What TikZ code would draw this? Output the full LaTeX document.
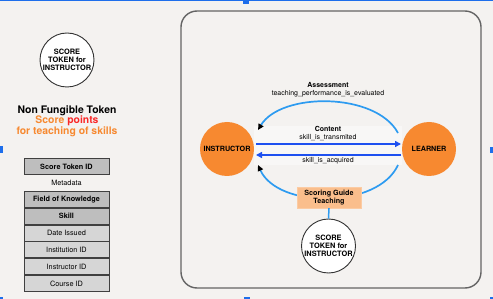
\documentclass[tikz,border=0pt]{standalone}
\usepackage{fontspec}
\setmainfont{TeX Gyre Heros}
\usetikzlibrary{arrows.meta,positioning}
\definecolor{bgc}{RGB}{244,242,240}
\definecolor{orng}{RGB}{247,137,48}
\definecolor{lorng}{RGB}{250,190,140}
\definecolor{ptred}{RGB}{250,40,40}
\definecolor{dblue}{RGB}{30,80,240}
\definecolor{lblue}{RGB}{45,155,240}
\definecolor{hblue}{RGB}{30,110,235}
\definecolor{dgrey}{RGB}{190,190,190}
\definecolor{lgrey}{RGB}{214,214,214}
\definecolor{frame}{RGB}{100,100,100}
\tikzset{
  token/.style={circle,draw=black!80,line width=0.9pt,fill=white,minimum size=54pt,inner sep=0pt,align=center,font=\fontsize{7.4}{8.2}\selectfont\bfseries},
  actor/.style={circle,fill=orng,minimum size=54pt,inner sep=0pt,font=\fontsize{7.2}{8}\selectfont\bfseries},
  rowbold/.style={draw=black!75,line width=0.8pt,fill=dgrey,minimum width=85pt,minimum height=16pt,inner sep=0pt,font=\fontsize{7.3}{8}\selectfont\bfseries},
  rowplain/.style={draw=black!75,line width=0.8pt,fill=lgrey,minimum width=85pt,minimum height=16pt,inner sep=0pt,font=\fontsize{7.3}{8}\selectfont},
  lbl/.style={align=center,font=\fontsize{7}{7.6}\selectfont,inner sep=1pt},
  flow/.style={draw=dblue,line width=1.8pt,-{Triangle[length=6pt,width=6pt]}},
  loop/.style={draw=lblue,line width=1.7pt,-{Triangle[length=6pt,width=5.5pt,color=black]}},
  handle/.style={fill=hblue,draw=none}
}
\begin{document}
\begin{tikzpicture}[x=1pt,y=-1pt]
\useasboundingbox (0,0) rectangle (493,299);
\fill[bgc] (0,0) rectangle (493,299);
% selection handles
\fill[handle] (0,0) rectangle (493,1.4);
\fill[handle] (243,0) rectangle (249,4);
\fill[handle] (0,146) rectangle (3,153);
\fill[handle] (490,147) rectangle (493,153);
\fill[handle] (0,297) rectangle (3,299);
\fill[handle] (244,297) rectangle (250,299);
\fill[handle] (490,297) rectangle (493,299);

% left token
\node[token] (tok1) at (67,60) {SCORE\\TOKEN for\\INSTRUCTOR};
\node[align=center,font=\fontsize{10.4}{10.6}\selectfont\bfseries,inner sep=0pt] (title) at (67,121)
  {Non Fungible Token\\{\color{orng}Score} {\color{ptred}points}\\{\color{orng}for teaching of skills}};

% table
\node[rowbold] (r1) at (66.5,166.5) {Score Token ID};
\node[font=\fontsize{7.3}{8}\selectfont,inner sep=0pt] (meta) at (66.5,183) {Metadata};
\node[rowbold,anchor=north] (r2) at (66.5,191) {Field of Knowledge};
\node[rowbold,anchor=north] (r3) at (r2.south) {Skill};
\node[rowplain,anchor=north] (r4) at (r3.south) {Date Issued};
\node[rowplain,anchor=north] (r5) at (r4.south) {Institution ID};
\node[rowplain,anchor=north] (r6) at (r5.south) {Instructor ID};
\node[rowplain,anchor=north] (r7) at (r6.south) {Course ID};

% frame
\draw[frame,line width=1.4pt,rounded corners=16pt] (181,11) rectangle (481,288);

% actors
\node[actor] (ins) at (227,149) {INSTRUCTOR};
\node[actor] (lea) at (429,149) {LEARNER};

% label backdrop
\fill[white,opacity=0.45] (254,126) rectangle (402,165);

% straight flows
\draw[flow] (256,144) -- (401,144);
\draw[flow] (401,155) -- (256,155);
\node[lbl] (lcont) at (328,133.5) {\textbf{Content}\\skill\_is\_transmited};
\node[lbl] (lacq) at (328,160.5) {skill\_is\_acquired};

% assessment arc
\draw[loop] (398,133) .. controls (376,92) and (281,92) .. (258,130);
\node[lbl] (lass) at (328,90) {\textbf{Assessment}\\teaching\_performance\_is\_evaluated};

% scoring arc
\draw[loop] (398,165) .. controls (378,209) and (278,209) .. (258,165);
\node[draw=lorng!80!white,fill=lorng,minimum width=64pt,minimum height=21pt,inner sep=0pt,align=center,font=\fontsize{7.2}{8.2}\selectfont\bfseries] (guide) at (329,197.5) {Scoring Guide\\Teaching};

% bottom token
\node[token] (tok2) at (328.5,246) {SCORE\\TOKEN for\\INSTRUCTOR};
\draw[lblue,line width=1.5pt] (guide.south) -- (tok2.north);
\end{tikzpicture}
\end{document}
